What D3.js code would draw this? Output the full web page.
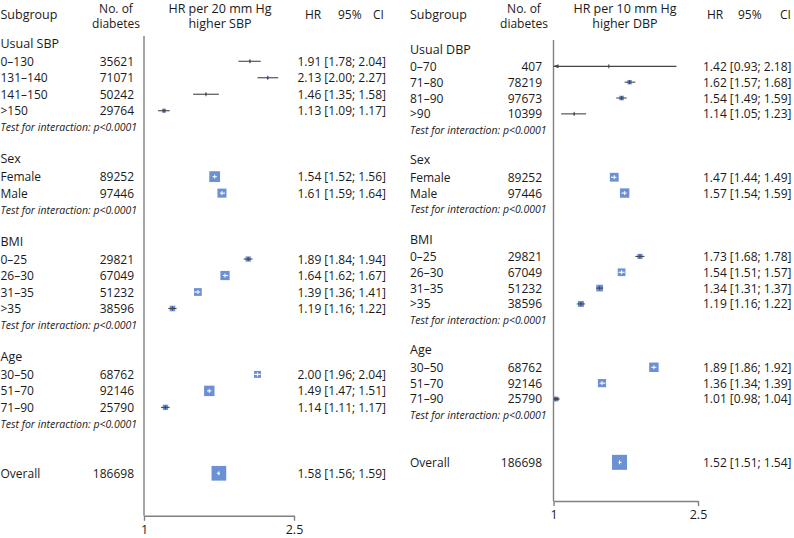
<!DOCTYPE html>
<html><head><meta charset="utf-8">
<script src="https://cdn.jsdelivr.net/npm/d3@7"></script>
<style>
html,body{margin:0;padding:0;background:#fff;}
svg{display:block;font-family:"Open Sans","Noto Sans",sans-serif;}
</style></head>
<body>
<svg id="chart" width="794" height="538"></svg>
<script>
// ---------- data ----------
const groupSizes = [4, 2, 4, 3];
const testText = "Test for interaction: p<0.0001";
const tickValues = [1, 2.5];

const leftTitle = ["HR per 20 mm Hg", "higher SBP"];
const leftGroups = ["Usual SBP", "Sex", "BMI", "Age"];
const leftLabels = ["0–130","131–140","141–150",">150","Female","Male","0–25","26–30","31–35",">35","30–50","51–70","71–90","Overall"];
const leftN  = [35621,71071,50242,29764,89252,97446,29821,67049,51232,38596,68762,92146,25790,186698];
const leftHR = [1.91,2.13,1.46,1.13,1.54,1.61,1.89,1.64,1.39,1.19,2.00,1.49,1.14,1.58];
const leftLo = [1.78,2.00,1.35,1.09,1.52,1.59,1.84,1.62,1.36,1.16,1.96,1.47,1.11,1.56];
const leftHi = [2.04,2.27,1.58,1.17,1.56,1.64,1.94,1.67,1.41,1.22,2.04,1.51,1.17,1.59];

const rightTitle = ["HR per 10 mm Hg", "higher DBP"];
const rightGroups = ["Usual DBP", "Sex", "BMI", "Age"];
const rightLabels = ["0–70","71–80","81–90",">90","Female","Male","0–25","26–30","31–35",">35","30–50","51–70","71–90","Overall"];
const rightN  = [407,78219,97673,10399,89252,97446,29821,67049,51232,38596,68762,92146,25790,186698];
const rightHR = [1.42,1.62,1.54,1.14,1.47,1.57,1.73,1.54,1.34,1.19,1.89,1.36,1.01,1.52];
const rightLo = [0.93,1.57,1.49,1.05,1.44,1.54,1.68,1.51,1.31,1.16,1.86,1.34,0.98,1.51];
const rightHi = [2.18,1.68,1.59,1.23,1.49,1.59,1.78,1.57,1.37,1.22,1.92,1.39,1.04,1.54];

// ---------- drawing ----------
const svg = d3.select("#chart");
const fmt = d3.format(".2f");
const BLUE = "#6c90d4", LINE = "#454545", AXIS = "#808080", TXT = "#1a1a1a";
const FS = "12px", FSH = "12.5px";

function panel(cfg) {
  const g = svg.append("g");
  const rows = [];
  let idx = 0, k = 0;
  groupSizes.forEach((n, gi) => {
    rows.push({type: "group", text: cfg.groups[gi], i: idx++});
    for (let j = 0; j < n; j++) rows.push({type: "item", d: k++, i: idx++});
    rows.push({type: "test", i: idx++});
    idx++;
  });
  idx++;
  rows.push({type: "item", d: k, i: idx, overall: true});

  const y = d3.scaleLinear().domain([0, 1]).range([cfg.y0, cfg.y0 + cfg.dy]);
  const x = d3.scaleLog().domain([1, 2.5]).range(cfg.xr);

  // headers
  const hdr = g.append("g").attr("fill", TXT).style("font-size", FS);
  hdr.append("text").attr("x", cfg.labelX).attr("y", 14.5).attr("dominant-baseline", "central").style("font-size", FSH).text("Subgroup");
  hdr.append("text").attr("x", cfg.nHeadX).attr("y", 8.3).attr("text-anchor", "middle").attr("dominant-baseline", "central").text("No. of");
  hdr.append("text").attr("x", cfg.nHeadX).attr("y", 23).attr("text-anchor", "middle").attr("dominant-baseline", "central").text("diabetes");
  hdr.append("text").attr("x", cfg.titleX).attr("y", 8.5).attr("text-anchor", "middle").attr("dominant-baseline", "central").style("font-size", "12.5px").text(cfg.title[0]);
  hdr.append("text").attr("x", cfg.titleX).attr("y", 23).attr("text-anchor", "middle").attr("dominant-baseline", "central").style("font-size", "12.5px").text(cfg.title[1]);
  ["HR", "95%", "CI"].forEach((t, i) => {
    hdr.append("text").attr("x", cfg.ciHeadX[i]).attr("y", 14.5).attr("dominant-baseline", "central").text(t);
  });

  // vertical reference line & axis
  const axisY = y(26) + cfg.axisGap;
  g.append("line").attr("x1", x(1)).attr("x2", x(1)).attr("y1", cfg.vTop).attr("y2", axisY)
    .attr("stroke", AXIS).attr("stroke-width", 1.4);
  const ax = g.append("g").attr("transform", `translate(0,${axisY})`)
    .call(d3.axisBottom(x).tickValues(tickValues).tickSize(5).tickSizeOuter(0).tickFormat(d => String(d)));
  ax.select(".domain").attr("stroke", AXIS).attr("stroke-width", 1.4);
  ax.selectAll(".tick line").attr("stroke", AXIS).attr("stroke-width", 1.4);
  ax.selectAll(".tick text").attr("fill", TXT).style("font-size", FSH).style("font-family", "'Open Sans','Noto Sans',sans-serif").attr("dy", "0.8em");

  rows.forEach(r => {
    const yy = y(r.i);
    if (r.type === "group") {
      g.append("text").attr("x", cfg.labelX).attr("y", yy - 1.5).attr("dominant-baseline", "central")
        .attr("fill", TXT).style("font-size", FSH).text(r.text);
    } else if (r.type === "test") {
      g.append("text").attr("x", cfg.labelX).attr("y", yy).attr("dominant-baseline", "central")
        .attr("fill", TXT).style("font-size", "10.5px").style("font-style", "italic").text(testText);
    } else {
      const d = r.d;
      g.append("text").attr("x", cfg.labelX).attr("y", yy).attr("dominant-baseline", "central")
        .attr("fill", TXT).style("font-size", FS).text(cfg.labels[d]);
      g.append("text").attr("x", cfg.nX).attr("y", yy).attr("dominant-baseline", "central").attr("text-anchor", "end")
        .attr("fill", TXT).style("font-size", FS).text(cfg.n[d]);
      g.append("text").attr("x", cfg.hrX).attr("y", yy).attr("dominant-baseline", "central")
        .attr("fill", TXT).style("font-size", FS)
        .text(`${fmt(cfg.hr[d])} [${fmt(cfg.lo[d])}; ${fmt(cfg.hi[d])}]`);

      const w = Math.log(cfg.hi[d]) - Math.log(cfg.lo[d]);
      const s = Math.max(1.5, Math.min(15, cfg.boxK / w));
      const cx = x(cfg.hr[d]);
      const xl = Math.max(x.range()[0], cx - s / 2);
      const xr2 = Math.min(x.range()[1], cx + s / 2);
      g.append("rect").attr("x", xl).attr("y", yy - s / 2).attr("width", xr2 - xl).attr("height", s).attr("fill", BLUE);
      const loC = Math.max(1, cfg.lo[d]);
      const x1 = x(loC), x2 = x(Math.min(2.5, cfg.hi[d]));
      const inside = (x2 - x1) <= s;
      const col = inside ? "#ffffff" : LINE;
      g.append("line").attr("x1", x1).attr("x2", x2).attr("y1", yy).attr("y2", yy)
        .attr("stroke", col).attr("stroke-width", 1.1);
      g.append("line").attr("x1", cx).attr("x2", cx).attr("y1", yy - 2).attr("y2", yy + 2)
        .attr("stroke", col).attr("stroke-width", 1);
      if (cfg.lo[d] < 1) {
        const ax0 = x(1);
        g.append("path").attr("d", `M${ax0},${yy}L${ax0 + 5},${yy - 2}L${ax0 + 5},${yy + 2}Z`).attr("fill", LINE);
      }
    }
  });
}

panel({
  groups: leftGroups, labels: leftLabels, n: leftN, hr: leftHR, lo: leftLo, hi: leftHi, title: leftTitle,
  y0: 44.8, dy: 16.48, xr: [144, 294], vTop: 36, axisGap: 42.5,
  labelX: 0.5, nX: 134, nHeadX: 116, titleX: 220, hrX: 297.5, ciHeadX: [305, 338, 373], boxK: 0.28
});
panel({
  groups: rightGroups, labels: rightLabels, n: rightN, hr: rightHR, lo: rightLo, hi: rightHi, title: rightTitle,
  y0: 50.5, dy: 15.84, xr: [553.5, 698], vTop: 40, axisGap: 38.7,
  labelX: 410, nX: 542, nHeadX: 524, titleX: 625, hrX: 703, ciHeadX: [707, 738, 780], boxK: 0.3
});
</script>
</body></html>
